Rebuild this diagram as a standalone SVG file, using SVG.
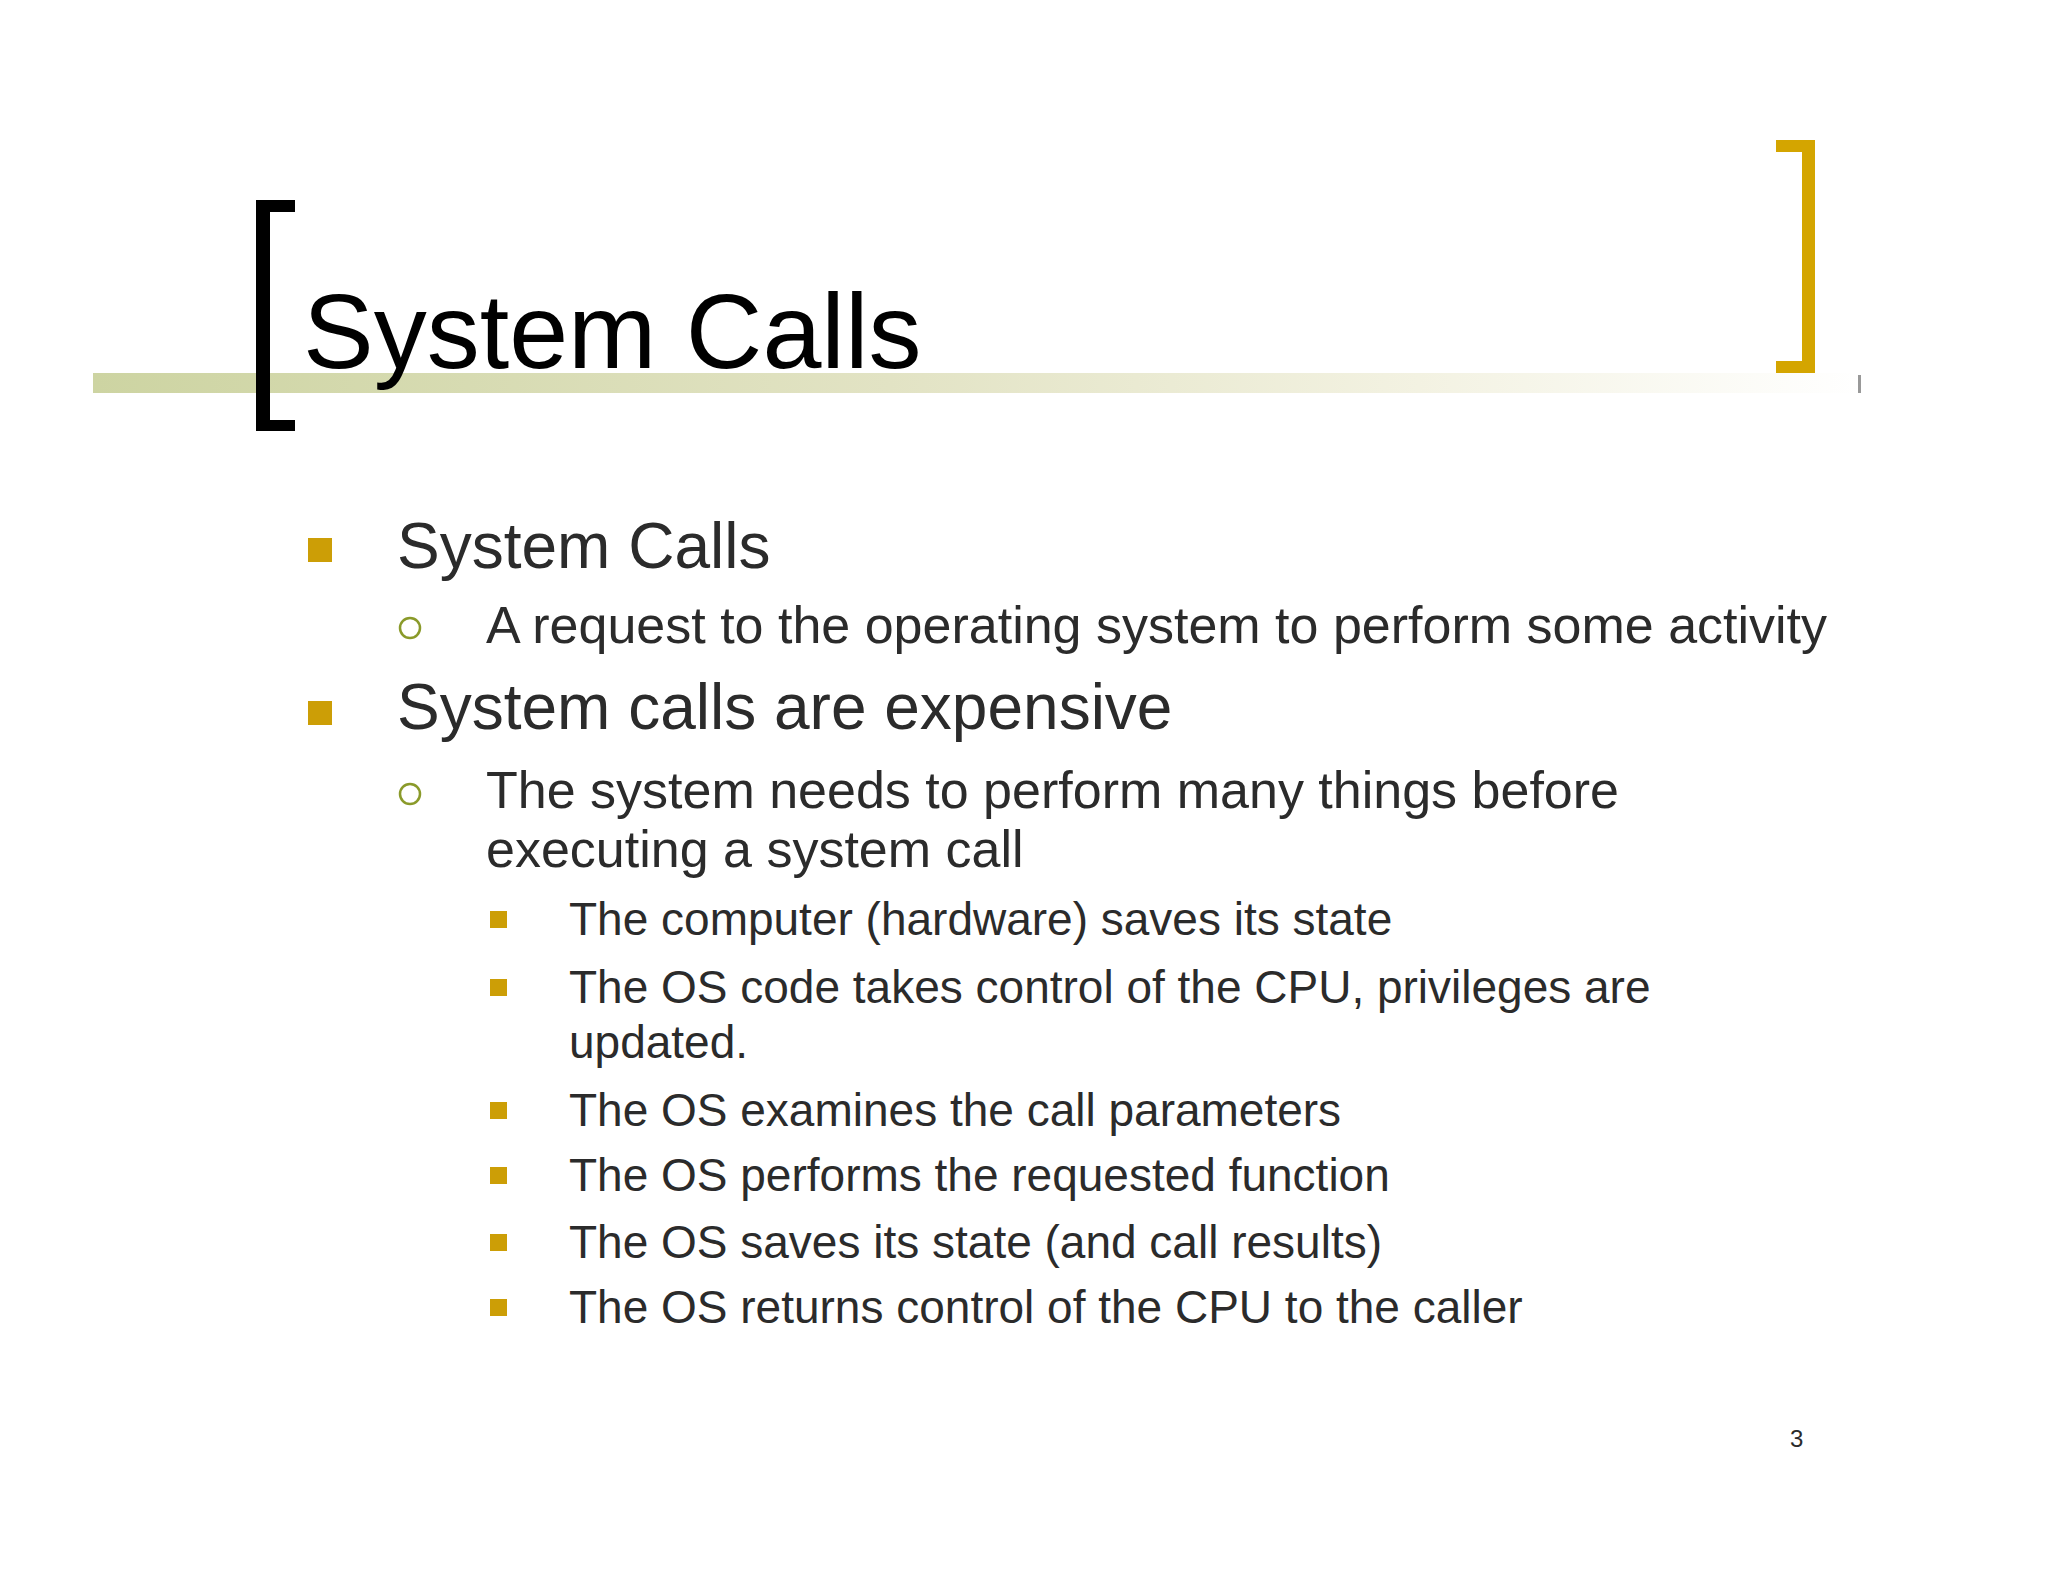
<svg xmlns="http://www.w3.org/2000/svg" width="2048" height="1582" viewBox="0 0 2048 1582">
<defs>
<linearGradient id="band" x1="0" x2="1" y1="0" y2="0">
<stop offset="0" stop-color="#cdd4a2"/><stop offset="0.45" stop-color="#e2e3c4"/><stop offset="0.75" stop-color="#f3f2e2"/><stop offset="1" stop-color="#ffffff"/>
</linearGradient>
<style>
text{font-family:"Liberation Sans",Arial,sans-serif;fill:#2b2b2b}
.l1{font-size:64px}.l2{font-size:52px}.l3{font-size:46px}
.sq{fill:#cc9e06}.ci{fill:none;stroke:#8a9a2a;stroke-width:2.5}
</style>
</defs>
<rect width="2048" height="1582" fill="#ffffff"/>
<g id="header">
<rect x="93" y="373" width="1768" height="20" fill="url(#band)"/>
<rect x="1858" y="375" width="3" height="18" fill="#999"/>
<path d="M295,200 H256 V431 H295 V420 H270 V212 H295 Z" fill="#000"/>
<path d="M1776,140 H1815 V373 H1776 V361 H1802 V152 H1776 Z" fill="#d4a500"/>
<text x="303" y="368" style="font-size:106px;fill:#000">System Calls</text>
</g>
<g id="bullets">
<rect class="sq" x="308" y="538" width="24" height="24"/>
<text class="l1" x="397" y="568">System Calls</text>
<circle class="ci" cx="410" cy="628" r="10"/>
<text class="l2" x="486" y="643">A request to the operating system to perform some activity</text>
<rect class="sq" x="308" y="701" width="24" height="24"/>
<text class="l1" x="397" y="729">System calls are expensive</text>
<circle class="ci" cx="410" cy="794" r="10"/>
<text class="l2" x="486" y="808">The system needs to perform many things before</text>
<text class="l2" x="486" y="867">executing a system call</text>
<rect class="sq" x="490" y="911" width="17" height="17"/>
<text class="l3" x="569" y="935">The computer (hardware) saves its state</text>
<rect class="sq" x="490" y="979" width="17" height="17"/>
<text class="l3" x="569" y="1003">The OS code takes control of the CPU, privileges are</text>
<text class="l3" x="569" y="1058">updated.</text>
<rect class="sq" x="490" y="1102" width="17" height="17"/>
<text class="l3" x="569" y="1126">The OS examines the call parameters</text>
<rect class="sq" x="490" y="1167" width="17" height="17"/>
<text class="l3" x="569" y="1191">The OS performs the requested function</text>
<rect class="sq" x="490" y="1234" width="17" height="17"/>
<text class="l3" x="569" y="1258">The OS saves its state (and call results)</text>
<rect class="sq" x="490" y="1299" width="17" height="17"/>
<text class="l3" x="569" y="1323">The OS returns control of the CPU to the caller</text>
</g>
<text x="1790" y="1447" style="font-size:24px">3</text>
</svg>
